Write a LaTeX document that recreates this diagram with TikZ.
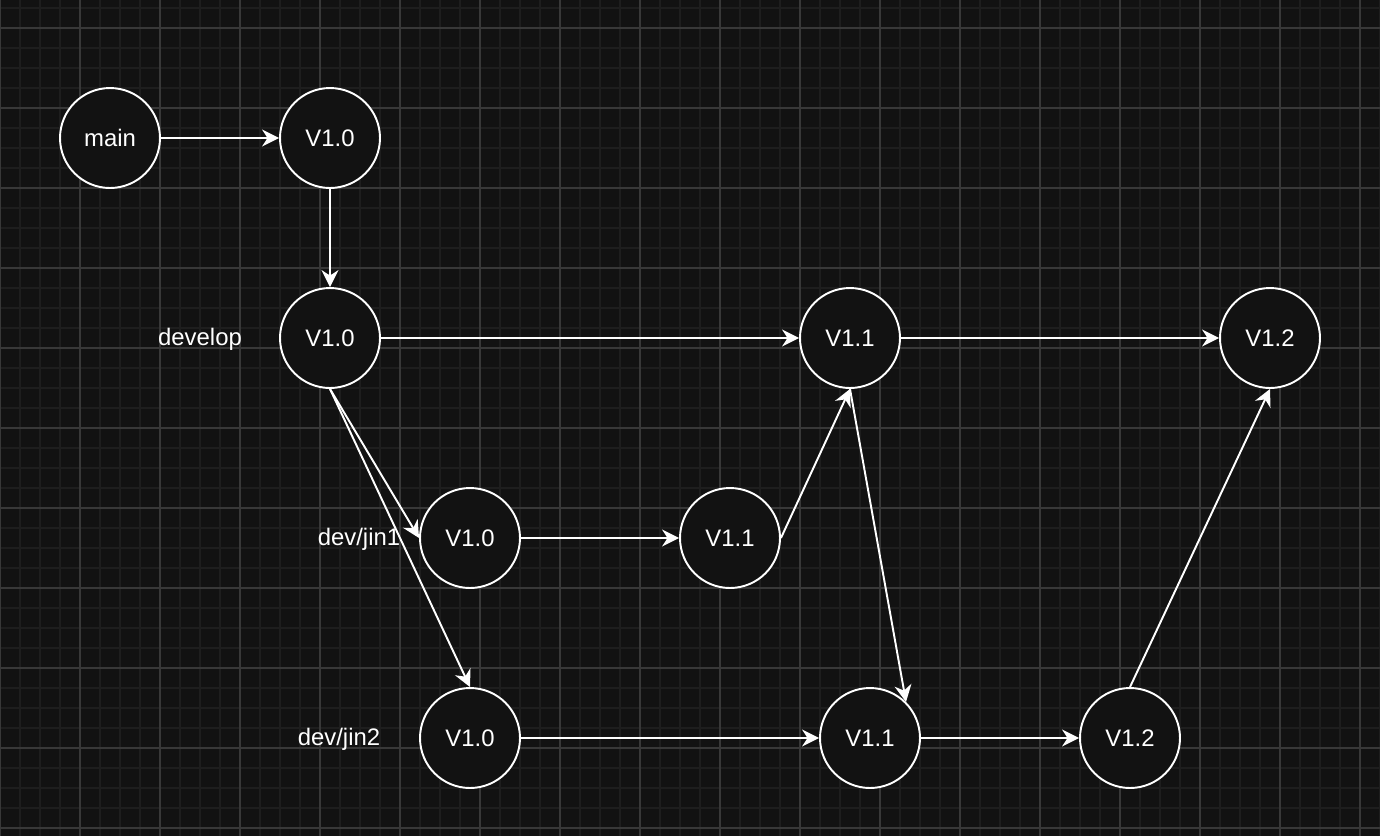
\documentclass[tikz,border=0pt]{standalone}
\usepackage{fontspec}
\setmainfont{Liberation Sans}
\usetikzlibrary{arrows.meta}
\definecolor{bgcol}{HTML}{121212}
\definecolor{minorcol}{HTML}{1E1E1E}
\definecolor{majorcol}{HTML}{383838}

\begin{document}
\begin{tikzpicture}[x=0.02cm, y=-0.02cm,
    >={Stealth[length=3.4mm, width=3.4mm, inset=1.1mm]},
    commit/.style={circle, draw=white, line width=1.1pt, fill=bgcol,
      minimum size=2cm, inner sep=0pt, text=white,
      font=\fontsize{13.6}{16}\selectfont},
    branch/.style={text=white, font=\fontsize{13.6}{16}\selectfont},
    link/.style={->, white, line width=1.1pt}]
  % Background and grid
  \fill[bgcol] (0,0) rectangle (1380,836);
  \useasboundingbox (0,0) rectangle (1380,836);
  \foreach \x in {0,20,...,1380}
    \draw[minorcol, line width=1.1pt] (\x,0) -- (\x,836);
  \foreach \y in {8,28,...,836}
    \draw[minorcol, line width=1.1pt] (0,\y) -- (1380,\y);
  \foreach \x in {0,80,...,1380}
    \draw[majorcol, line width=0.6pt] (\x,0) -- (\x,836);
  \foreach \y in {28,108,...,836}
    \draw[majorcol, line width=0.6pt] (0,\y) -- (1380,\y);
  % main
  \node[commit] (main) at (110,138) {main};
  \node[commit] (m10) at (330,138) {V1.0};
  % develop
  \node[branch] (develop) at (200,339) {develop};
  \node[commit] (d10) at (330,338) {V1.0};
  \node[commit] (d11) at (850,338) {V1.1};
  \node[commit] (d12) at (1270,338) {V1.2};
  % dev/jin1
  \node[branch] (jin1) at (359,539) {dev/jin1};
  \node[commit] (a10) at (470,538) {V1.0};
  \node[commit] (a11) at (730,538) {V1.1};
  % dev/jin2
  \node[branch] (jin2) at (339,739) {dev/jin2};
  \node[commit] (b10) at (470,738) {V1.0};
  \node[commit] (b11) at (870,738) {V1.1};
  \node[commit] (b12) at (1130,738) {V1.2};
  % Connectors
  \draw[link] (main) -- (m10);
  \draw[link] (m10) -- (d10);
  \draw[link] (d10) -- (d11);
  \draw[link] (d11) -- (d12);
  \draw[link] (d10.south) -- (a10.west);
  \draw[link] (d10.south) -- (b10.north);
  \draw[link] (a10) -- (a11);
  \draw[link] (a11.east) -- (d11.south);
  \draw[link] (d11.south) -- (b11.45);
  \draw[link] (b10) -- (b11);
  \draw[link] (b11) -- (b12);
  \draw[link] (b12.north) -- (d12.south);
\end{tikzpicture}
\end{document}
